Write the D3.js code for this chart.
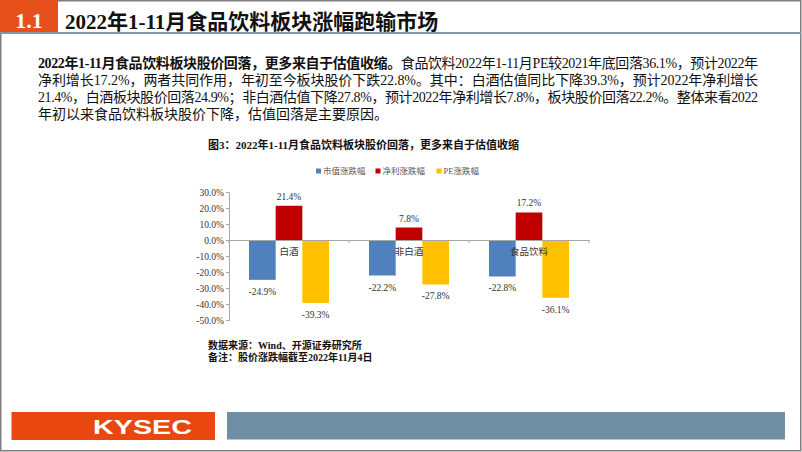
<!DOCTYPE html>
<html><head><meta charset="utf-8">
<script src="https://cdn.jsdelivr.net/npm/d3@7"></script>
<style>
html,body{margin:0;padding:0;background:#fff;}
svg{display:block;}
</style></head>
<body>
<svg id="c" width="802" height="452"></svg>
<script>
// ---- data ----
const categories = ["白酒", "非白酒", "食品饮料"];
const seriesNames = ["市值涨跌幅", "净利涨跌幅", "PE涨跌幅"];
const marketCapChange = [-24.9, -22.2, -22.8];
const netProfitChange = [21.4, 7.8, 17.2];
const peChange = [-39.3, -27.8, -36.1];
const yTickValues = [30, 20, 10, 0, -10, -20, -30, -40, -50];
const seriesColors = ["#4f81bd", "#c00000", "#ffc000"];

const headerNumber = "1.1";
const headerTitle = "2022年1-11月食品饮料板块涨幅跑输市场";
const paraBold = "2022年1-11月食品饮料板块股价回落，更多来自于估值收缩。";
const paraLines = [
  "食品饮料2022年1-11月PE较2021年底回落36.1%，预计2022年",
  "净利增长17.2%，两者共同作用，年初至今板块股价下跌22.8%。其中：白酒估值同比下降39.3%，预计2022年净利增长",
  "21.4%，白酒板块股价回落24.9%；非白酒估值下降27.8%，预计2022年净利增长7.8%，板块股价回落22.2%。整体来看2022",
  "年初以来食品饮料板块股价下降，估值回落是主要原因。"
];
const chartTitle = "图3：2022年1-11月食品饮料板块股价回落，更多来自于估值收缩";
const notes = ["数据来源：Wind、开源证券研究所", "备注：股价涨跌幅截至2022年11月4日"];
const brand = "KYSEC";

const seriesValues = [marketCapChange, netProfitChange, peChange];
const FONT = "'Liberation Serif','Times New Roman','Noto Sans CJK SC',serif";

const svg = d3.select("#c");

// ---- page frame ----
svg.append("rect").attr("x", 0.75).attr("y", 0.75).attr("width", 800).attr("height", 450)
  .attr("fill", "#fff").attr("stroke", "#7f7f7f").attr("stroke-width", 1.5);

// header
svg.append("rect").attr("x", 0).attr("y", 0).attr("width", 58).attr("height", 33).attr("fill", "#e5501b");
svg.append("text").attr("x", 29).attr("y", 28).attr("text-anchor", "middle")
  .attr("font-family", FONT).attr("font-weight", "bold").attr("font-size", 22).attr("fill", "#fff")
  .text(headerNumber);
svg.append("text").attr("x", 65).attr("y", 29)
  .attr("font-family", FONT).attr("font-weight", "bold").attr("font-size", 21).attr("fill", "#111")
  .text(headerTitle);
svg.append("line").attr("x1", 0).attr("x2", 801).attr("y1", 33).attr("y2", 33)
  .attr("stroke", "#7f97a8").attr("stroke-width", 2);

// paragraph
const paraX = 38, paraRight = 758, paraY0 = 68, paraLH = 17;
paraLines.forEach((ln, i) => {
  const t = svg.append("text").attr("x", paraX).attr("y", paraY0 + i * paraLH)
    .attr("font-family", FONT).attr("font-size", 14).attr("fill", "#111");
  if (i === 0) {
    t.append("tspan").attr("font-weight", "bold").text(paraBold);
  }
  t.append("tspan").text(ln);
  if (i < paraLines.length - 1) {
    t.attr("textLength", paraRight - paraX).attr("lengthAdjust", "spacing");
  }
});

// chart title
svg.append("text").attr("x", 208).attr("y", 149)
  .attr("font-family", FONT).attr("font-weight", "bold").attr("font-size", 11).attr("fill", "#111")
  .text(chartTitle);

// legend
const legendX = [316, 375.5, 436.5];
const lg = svg.append("g");
seriesNames.forEach((n, i) => {
  lg.append("rect").attr("x", legendX[i]).attr("y", 168.5).attr("width", 5).attr("height", 5).attr("fill", seriesColors[i]);
  lg.append("text").attr("x", legendX[i] + 7).attr("y", 174)
    .attr("font-family", FONT).attr("font-size", 8.5).attr("fill", "#595959").text(n);
});

// scales
const y = d3.scaleLinear().domain([-50, 30]).range([320, 192]);
const x0 = d3.scaleBand().domain(categories).range([229, 589]).padding(0);
const x1 = d3.scaleBand().domain(seriesNames).range([0, x0.bandwidth()]).paddingInner(0).paddingOuter(0.75);

// y axis
const yAxis = svg.append("g").attr("transform", "translate(229,0)")
  .call(d3.axisLeft(y).tickValues(yTickValues).tickSize(3).tickFormat(d => d.toFixed(1) + "%"));
yAxis.select(".domain").attr("stroke", "#a6a6a6");
yAxis.selectAll(".tick line").attr("stroke", "#a6a6a6");
yAxis.selectAll(".tick text").attr("font-family", FONT).attr("font-size", 9.5).attr("fill", "#333").attr("x", -5);

// bars
const bars = svg.append("g");
categories.forEach((c, ci) => {
  seriesNames.forEach((s, si) => {
    const v = seriesValues[si][ci];
    bars.append("rect")
      .attr("x", x0(c) + x1(s))
      .attr("y", Math.min(y(v), y(0)))
      .attr("width", x1.bandwidth())
      .attr("height", Math.abs(y(v) - y(0)))
      .attr("fill", seriesColors[si]);
    const cx = x0(c) + x1(s) + x1.bandwidth() / 2;
    bars.append("text")
      .attr("x", cx)
      .attr("y", v >= 0 ? y(v) - 6 : y(v) + 15)
      .attr("text-anchor", "middle")
      .attr("font-family", FONT).attr("font-size", 9.5).attr("fill", "#333")
      .text(v.toFixed(1) + "%");
  });
});

// x axis at zero
const xAxis = svg.append("g").attr("transform", `translate(0,${y(0)})`)
  .call(d3.axisBottom(x0).tickSize(0).tickFormat(""));
xAxis.select(".domain").attr("stroke", "#a6a6a6");
const bounds = [229].concat(categories.map(c => x0(c) + x0.bandwidth()));
svg.append("g").selectAll("line").data(bounds).join("line")
  .attr("x1", d => d).attr("x2", d => d).attr("y1", y(0)).attr("y2", y(0) + 3)
  .attr("stroke", "#a6a6a6");
svg.append("g").selectAll("text").data(categories).join("text")
  .attr("x", d => x0(d) + x0.bandwidth() / 2).attr("y", y(0) + 15)
  .attr("text-anchor", "middle").attr("font-family", FONT).attr("font-size", 9.5).attr("fill", "#333")
  .text(d => d);

// notes
notes.forEach((n, i) => {
  svg.append("text").attr("x", 208).attr("y", 349 + i * 11.5)
    .attr("font-family", FONT).attr("font-weight", "bold").attr("font-size", 10).attr("fill", "#111").text(n);
});

// footer
svg.append("rect").attr("x", 11.5).attr("y", 412).attr("width", 203.5).attr("height", 28).attr("fill", "#e8470f");
svg.append("rect").attr("x", 227).attr("y", 412).attr("width", 558).attr("height", 27.5).attr("fill", "#6f90a4");
svg.append("text").attr("x", 93).attr("y", 433.5)
  .attr("font-family", "'Liberation Sans',Arial,sans-serif").attr("font-weight", "bold").attr("font-size", 20)
  .attr("textLength", 99).attr("lengthAdjust", "spacingAndGlyphs")
  .attr("fill", "#fff").text(brand);
</script>
</body></html>
